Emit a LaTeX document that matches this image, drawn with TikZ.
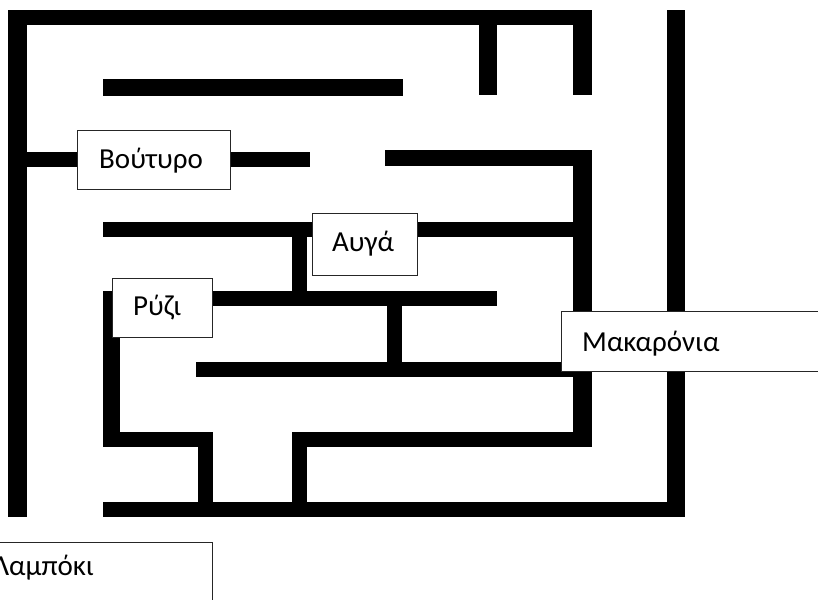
\documentclass[tikz,border=0pt]{standalone}
\usepackage{fontspec}
\setmainfont{Carlito}
\begin{document}
\begin{tikzpicture}[x=1pt, y=-1pt,
  wall/.style={fill=black, draw=none},
  labelbox/.style={draw=black!85, line width=1.1pt, fill=white, rectangle, inner sep=0pt, anchor=north west},
  labeltext/.style={anchor=base west, inner sep=0pt, font=\fontsize{29}{34}\selectfont}]
  \useasboundingbox (0,0) rectangle (818,599);
  \fill[white] (0,0) rectangle (818,599);
  \clip (0,0) rectangle (818,599);

  % outer frame
  \fill[wall] (8,10) rectangle (592,25);
  \fill[wall] (8,10) rectangle (27,517);
  \fill[wall] (667,10) rectangle (685,517);
  \fill[wall] (103,502) rectangle (685,517);

  % stubs hanging from the top wall
  \fill[wall] (573,10) rectangle (592,95);
  \fill[wall] (479,25) rectangle (497,95);

  % long upper bar
  \fill[wall] (103,79) rectangle (403,96);

  % second row
  \fill[wall] (27,152) rectangle (310,167);
  \fill[wall] (385,150) rectangle (592,166);
  \fill[wall] (573,150) rectangle (592,447);

  % third row with its drop
  \fill[wall] (103,222) rectangle (592,237);
  \fill[wall] (292,222) rectangle (307,292);

  % fourth row
  \fill[wall] (103,291) rectangle (497,306);
  \fill[wall] (387,291) rectangle (402,377);
  \fill[wall] (103,291) rectangle (120,447);

  % fifth row
  \fill[wall] (196,362) rectangle (592,377);

  % lower rows
  \fill[wall] (103,432) rectangle (213,447);
  \fill[wall] (198,432) rectangle (213,517);
  \fill[wall] (292,432) rectangle (592,447);
  \fill[wall] (292,432) rectangle (307,517);

  % labelled boxes
  \node[labelbox, minimum width=153pt, minimum height=59pt] (butterbox) at (77,130) {};
  \node[labeltext] (butter) at (99,168) {Βούτυρο};

  \node[labelbox, minimum width=105pt, minimum height=62pt] (eggsbox) at (312,213) {};
  \node[labeltext] (eggs) at (332,251) {Αυγά};

  \node[labelbox, minimum width=100pt, minimum height=59pt] (ricebox) at (112,278) {};
  \node[labeltext] (rice) at (133,315) {Ρύζι};

  \node[labelbox, minimum width=270pt, minimum height=60pt] (pastabox) at (561,311) {};
  \node[labeltext] (pasta) at (582,351) {Μακαρόνια};

  \node[labelbox, minimum width=230pt, minimum height=80pt] (cornbox) at (-18,542) {};
  \node[labeltext, anchor=base east] (corn) at (94,575) {Λαμπόκι};
\end{tikzpicture}
\end{document}
